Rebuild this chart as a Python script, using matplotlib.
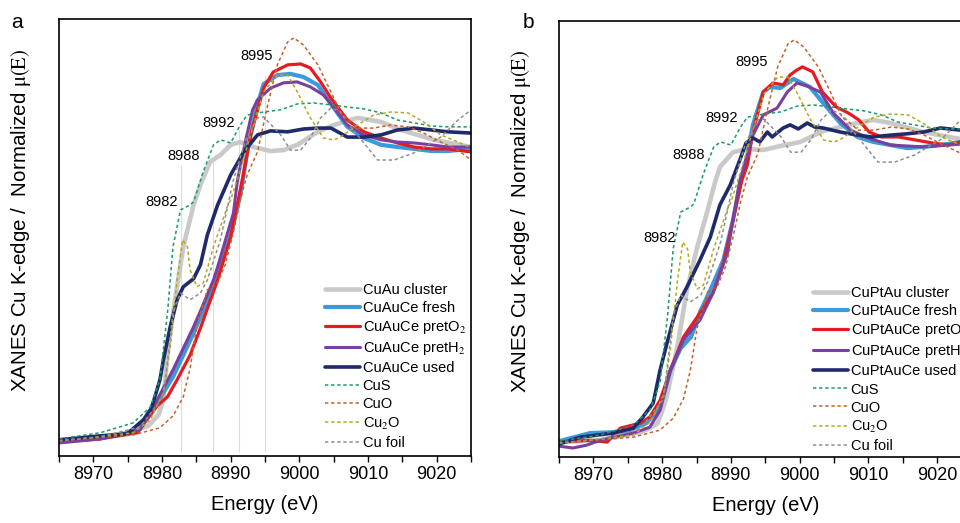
import matplotlib
matplotlib.use("Agg")
import matplotlib.pyplot as plt

plt.rcParams["font.family"] = ["Liberation Sans", "DejaVu Sans"]
plt.rcParams["mathtext.fontset"] = "stix"

# ---- reference spectra (same in both panels) ----
E_cus = [8965, 8971, 8975.8, 8978.3, 8979.7, 8980.8, 8981.6, 8982.7, 8984.1, 8984.6, 8986.0, 8987.5, 8988.5, 8990.0,
         8991.4, 8992.4, 8994.8, 8997.3, 8999.7, 9002.1, 9004.6, 9007.0, 9009.4, 9011.9, 9014.3, 9016.7, 9019.2, 9021.6, 9025]
mu_cus = [0.003, 0.023, 0.055, 0.106, 0.194, 0.410, 0.623, 0.742, 0.758, 0.768, 0.865, 0.952, 0.968, 0.958,
          1.016, 1.048, 1.058, 1.065, 1.084, 1.087, 1.081, 1.074, 1.068, 1.055, 1.032, 1.023, 1.013, 1.010, 1.010]

E_cuo = [8965, 8975.8, 8979.7, 8981.6, 8983.1, 8984.1, 8985.1, 8986.6, 8988.1, 8989.2, 8990.3, 8991.4, 8992.4, 8993.9,
         8995.4, 8996.8, 8998.3, 8999.2, 9000.6, 9002.7, 9004.6, 9006.0, 9008.5, 9010.8, 9013.3, 9015.8, 9018.1, 9020.6,
         9023.1, 9025]
mu_cuo = [-0.003, 0.016, 0.039, 0.077, 0.139, 0.232, 0.371, 0.484, 0.506, 0.565, 0.661, 0.774, 0.855, 0.929,
          1.081, 1.210, 1.284, 1.297, 1.274, 1.210, 1.123, 1.055, 1.006, 1.006, 1.016, 1.010, 0.990, 0.961,
          0.935, 0.903]

E_cu2o = [8965, 8971, 8975.8, 8978.3, 8980.2, 8981.2, 8982.2, 8983.0, 8983.7, 8984.1, 8985.1, 8986.0, 8987.5, 8989.5,
          8990.0, 8991.4, 8992.9, 8994.8, 8996.8, 8998.3, 8999.7, 9001.6, 9003.5, 9005.0, 9006.0, 9008.5, 9010.8,
          9013.3, 9015.8, 9018.1, 9020.6, 9023.1, 9025]
mu_cu2o = [-0.003, 0.010, 0.023, 0.065, 0.152, 0.300, 0.516, 0.645, 0.623, 0.548, 0.494, 0.506, 0.623, 0.752,
           0.774, 0.871, 0.984, 1.123, 1.177, 1.177, 1.123, 1.039, 0.974, 0.968, 0.977, 1.016, 1.048,
           1.058, 1.055, 1.026, 0.984, 0.961, 0.942]

E_foil = [8965, 8971, 8976.8, 8980.2, 8981.6, 8982.7, 8984.1, 8985.6, 8986.6, 8988.5, 8990.4, 8992.2, 8993.9, 8994.8,
          8997.3, 8998.7, 9000.2, 9001.6, 9003.1, 9004.6, 9006.0, 9007.0, 9009.4, 9011.4, 9013.8, 9016.7, 9020.6,
          9023.1, 9025]
mu_foil = [-0.003, 0.010, 0.042, 0.139, 0.410, 0.474, 0.452, 0.474, 0.516, 0.645, 0.839, 0.968, 1.039, 1.042,
           0.984, 0.935, 0.935, 0.974, 1.039, 1.071, 1.058, 1.023, 0.958, 0.903, 0.903, 0.926, 0.977,
           1.032, 1.065]

# ---- panel a: CuAu samples ----
E_a_cluster = [8965, 8970, 8975, 8978, 8979.5, 8980.2, 8980.8, 8981.9, 8983.1, 8984.6, 8985.6, 8987.0, 8988.5, 8990.0,
               8991.4, 8993.3, 8995.8, 8997.7, 8999.7, 9002.7, 9005.0, 9008.5, 9011.9, 9014.8, 9019.6, 9025]
mu_a_cluster = [0.0, 0.006, 0.023, 0.045, 0.081, 0.129, 0.281, 0.452, 0.623, 0.758, 0.823, 0.897, 0.919, 0.952,
                0.961, 0.945, 0.932, 0.935, 0.952, 0.994, 1.016, 1.039, 1.026, 1.0, 0.968, 0.945]

E_a_fresh = [8965, 8971, 8976.4, 8979.3, 8981.6, 8984.6, 8987.5, 8990.0, 8991.4, 8992.6, 8993.9, 8994.8, 8996.8,
             8998.7, 9000.6, 9002.7, 9004.6, 9007.0, 9009.4, 9011.9, 9014.3, 9016.7, 9019.2, 9021.6, 9025]
mu_a_fresh = [-0.006, 0.006, 0.026, 0.12, 0.203, 0.345, 0.494, 0.661, 0.790, 0.952, 1.081, 1.148, 1.177,
              1.181, 1.171, 1.145, 1.084, 1.010, 0.974, 0.952, 0.945, 0.939, 0.932, 0.932, 0.939]

E_a_o2 = [8965, 8971, 8976.4, 8979.3, 8980.8, 8982.2, 8984.1, 8985.6, 8988.1, 8990.0, 8991.7, 8992.9, 8994.8, 8996.2,
          8998.3, 9000.2, 9001.6, 9003.1, 9004.6, 9007.0, 9009.4, 9011.9, 9014.3, 9016.7, 9019.2, 9021.6, 9025]
mu_a_o2 = [-0.006, 0.003, 0.023, 0.110, 0.139, 0.194, 0.274, 0.361, 0.516, 0.655, 0.839, 0.984, 1.135, 1.187,
           1.210, 1.213, 1.2, 1.155, 1.103, 1.032, 0.994, 0.974, 0.958, 0.945, 0.939, 0.939, 0.929]

E_a_h2 = [8965, 8971, 8976.8, 8979.3, 8981.6, 8984.6, 8985.6, 8987.5, 8988.1, 8990.4, 8991.0, 8992.2, 8993.2, 8993.9,
          8995.8, 8997.7, 8999.7, 9001.6, 9003.5, 9004.6, 9007.0, 9009.4, 9011.9, 9014.3, 9016.7, 9019.2, 9021.6, 9025]
mu_a_h2 = [-0.010, 0.003, 0.032, 0.129, 0.226, 0.365, 0.416, 0.516, 0.558, 0.732, 0.839, 0.968, 1.065, 1.097,
           1.135, 1.152, 1.155, 1.139, 1.113, 1.084, 1.016, 0.984, 0.968, 0.961, 0.958, 0.952, 0.945, 0.945]

E_a_used = [8965, 8971, 8974.9, 8977.3, 8978.3, 8978.7, 8979.7, 8980.2, 8981.2, 8982.2, 8983.1, 8984.6, 8985.6, 8986.6,
            8988.1, 8990.0, 8991.9, 8993.9, 8995.8, 8998.3, 9000.6, 9002.7, 9004.6, 9007.0, 9009.4, 9011.9, 9014.3,
            9016.7, 9019.2, 9021.6, 9025]
mu_a_used = [0.0, 0.013, 0.019, 0.065, 0.097, 0.119, 0.194, 0.258, 0.365, 0.452, 0.494, 0.520, 0.565, 0.661,
             0.758, 0.855, 0.929, 0.984, 0.997, 0.994, 1.003, 1.006, 1.006, 0.977, 0.977, 0.984, 1.0,
             1.006, 1.0, 0.994, 0.990]

# ---- panel b: CuPtAu samples ----
E_b_cluster = [8965, 8971, 8976.8, 8978.2, 8979.3, 8980.0, 8980.7, 8982.2, 8983.6, 8985.1, 8986.5, 8987.7, 8988.4,
               8990.3, 8992.4, 8994.7, 8997.2, 9000.1, 9003.4, 9008.4, 9010.7, 9013.2, 9018.0, 9023.4, 9025]
mu_b_cluster = [0.0, 0.006, 0.032, 0.045, 0.06, 0.10, 0.15, 0.306, 0.490, 0.629, 0.739, 0.839, 0.887,
                0.935, 0.945, 0.942, 0.955, 0.968, 1.003, 1.029, 1.039, 1.029, 1.0, 0.977, 0.968]

E_b_fresh = [8965, 8969.5, 8972.9, 8975.3, 8977.7, 8979.7, 8981.2, 8982.7, 8984.2, 8985.5, 8987.0, 8988.9, 8990.3,
             8991.3, 8992.4, 8993.2, 8994.7, 8995.7, 8997.2, 8999.1, 9001.5, 9003.4, 9005.9, 9008.4, 9010.7, 9013.2,
             9015.7, 9018.0, 9020.5, 9023.4, 9025]
mu_b_fresh = [0.003, 0.029, 0.032, 0.039, 0.061, 0.113, 0.232, 0.303, 0.339, 0.419, 0.490, 0.587, 0.716,
              0.829, 0.926, 1.023, 1.129, 1.145, 1.142, 1.171, 1.145, 1.094, 1.029, 0.984, 0.968, 0.958,
              0.948, 0.952, 0.958, 0.968, 0.971]

E_b_o2 = [8965, 8969.5, 8972.0, 8973.9, 8976.8, 8978.2, 8979.7, 8981.2, 8983.1, 8985.5, 8987.4, 8988.9, 8990.3, 8991.6,
          8992.4, 8993.2, 8994.7, 8996.1, 8997.6, 8998.6, 8999.6, 9000.4, 9001.9, 9003.3, 9005.3, 9007.1, 9008.6,
          9010.1, 9011.9, 9014.4, 9016.9, 9019.2, 9021.7, 9023.4, 9025]
mu_b_o2 = [0.0, 0.006, 0.0, 0.045, 0.061, 0.081, 0.135, 0.232, 0.339, 0.416, 0.481, 0.577, 0.716, 0.845,
           0.894, 1.0, 1.129, 1.158, 1.152, 1.184, 1.2, 1.210, 1.194, 1.129, 1.081, 1.061, 1.039,
           1.0, 0.984, 0.984, 0.974, 0.965, 0.958, 0.968, 0.965]

E_b_h2 = [8965, 8967.0, 8969.0, 8971.0, 8972.9, 8975.8, 8978.2, 8979.7, 8981.2, 8983.1, 8985.5, 8987.4, 8989.5, 8990.3,
          8991.3, 8992.4, 8993.2, 8994.7, 8996.7, 8998.2, 8999.6, 9001.1, 9003.0, 9004.9, 9007.4, 9009.9, 9013.2,
          9018.0, 9023.4, 9025]
mu_b_h2 = [-0.013, -0.019, -0.010, 0.006, 0.016, 0.029, 0.048, 0.103, 0.232, 0.329, 0.394, 0.481, 0.610, 0.716,
           0.845, 0.926, 0.990, 1.055, 1.077, 1.129, 1.158, 1.148, 1.129, 1.061, 1.006, 0.981, 0.958,
           0.952, 0.961, 0.961]

E_b_used = [8965, 8968.1, 8972.9, 8975.8, 8977.2, 8978.7, 8979.7, 8980.7, 8982.2, 8983.6, 8985.5, 8987.0, 8988.4,
            8989.9, 8991.3, 8992.2, 8993.2, 8994.2, 8995.3, 8996.0, 8996.7, 8997.6, 8998.6, 8999.8, 9001.1, 9002.2,
            9003.4, 9005.9, 9008.4, 9010.5, 9013.2, 9015.5, 9018.0, 9020.5, 9023.4, 9025]
mu_b_used = [-0.006, 0.016, 0.029, 0.045, 0.081, 0.126, 0.232, 0.319, 0.442, 0.500, 0.587, 0.661, 0.765,
             0.829, 0.910, 0.965, 0.981, 0.968, 1.0, 0.984, 0.997, 1.013, 1.023, 1.010, 1.029, 1.016,
             1.013, 1.0, 0.990, 0.984, 0.990, 0.994, 1.0, 1.013, 1.006, 1.006]

# ---- styles ----
samp_style = [("#c9c9c9", 3.3), ("#3b9ad9", 3.0), ("#e8191f", 2.3), ("#7b3f9e", 2.2), ("#1f2a6b", 2.6)]
ref_colors = ["#1a9a6c", "#c5622a", "#b5a91c", "#8e8e8e"]
ref_names = ["CuS", "CuO", "Cu$_2$O", "Cu foil"]

# grey guide lines and peak labels
vl_E = [8982.8, 8987.4, 8991.2, 8995.0]
vl_top = [0.887, 0.903, 1.0, 1.177]
lab_txt = ["8982", "8988", "8992", "8995"]
lab_a_E = [8979.9, 8983.2, 8988.2, 8993.8]
lab_a_y = [0.768, 0.916, 1.023, 1.239]
lab_b_E = [8979.6, 8983.9, 8988.6, 8993.0]
lab_b_y = [0.658, 0.926, 1.045, 1.226]

fig = plt.figure(figsize=(9.6, 5.23), dpi=100)
ax_a = fig.add_axes([59 / 960, 67 / 523, 412 / 960, 437 / 523])
ax_b = fig.add_axes([559 / 960, 66 / 523, 412.6 / 960, 436 / 523])


def draw(ax, samples, names, lab_E, lab_y, ylim, leg_x, leg_y, guides):
    if guides:
        ax.vlines(vl_E, -0.04, vl_top, color="#dcdcdc", lw=0.8, zorder=0)
    for (E, mu), (c, lw), nm in zip(samples, samp_style, names):
        ax.plot(E, mu, color=c, lw=lw, label=nm, solid_capstyle="round")
    refs = [(E_cus, mu_cus), (E_cuo, mu_cuo), (E_cu2o, mu_cu2o), (E_foil, mu_foil)]
    for (E, mu), c, nm in zip(refs, ref_colors, ref_names):
        ax.plot(E, mu, color=c, lw=1.1, ls=(0, (2.2, 1.8)), label=nm)
    for t, x, y in zip(lab_txt, lab_E, lab_y):
        ax.text(x, y, t, ha="center", va="center", fontsize=10.5)
    ax.set_xlim(8965, 9025)
    ax.set_ylim(*ylim)
    ax.set_xticks(range(8970, 9021, 10))
    ax.set_xticks(range(8965, 9026, 5), minor=True)
    ax.tick_params(axis="x", which="both", direction="out", length=4, width=1, labelsize=13)
    ax.set_yticks([])
    for s in ax.spines.values():
        s.set_linewidth(1.2)
    ax.set_xlabel("Energy (eV)", fontsize=14.5, labelpad=8)
    ax.set_ylabel(r"XANES Cu K-edge /  Normalized $\mathrm{\mu(E)}$", fontsize=14.8)
    ax.yaxis.set_label_coords(-0.062, 0.54)
    ax.legend(loc="upper left", bbox_to_anchor=(leg_x, leg_y), frameon=False, fontsize=10.5,
              handlelength=2.4, handletextpad=0.2, labelspacing=0.28, borderpad=0, borderaxespad=0)


draw(ax_a,
     [(E_a_cluster, mu_a_cluster), (E_a_fresh, mu_a_fresh), (E_a_o2, mu_a_o2), (E_a_h2, mu_a_h2),
      (E_a_used, mu_a_used)],
     ["CuAu cluster", "CuAuCe fresh", "CuAuCe pretO$_2$", "CuAuCe pretH$_2$", "CuAuCe used"],
     lab_a_E, lab_a_y, (-0.052, 1.358), 0.645, 0.396, True)
draw(ax_b,
     [(E_b_cluster, mu_b_cluster), (E_b_fresh, mu_b_fresh), (E_b_o2, mu_b_o2), (E_b_h2, mu_b_h2),
      (E_b_used, mu_b_used)],
     ["CuPtAu cluster", "CuPtAuCe fresh", "CuPtAuCe pretO$_2$", "CuPtAuCe pretH$_2$", "CuPtAuCe used"],
     lab_b_E, lab_b_y, (-0.048, 1.358), 0.615, 0.392, False)

fig.text(17 / 960, 1 - 23 / 523, "a", fontsize=15, ha="center", va="center")
fig.text(528 / 960, 1 - 23 / 523, "b", fontsize=15, ha="center", va="center")

fig.savefig("out.png", dpi=100)
